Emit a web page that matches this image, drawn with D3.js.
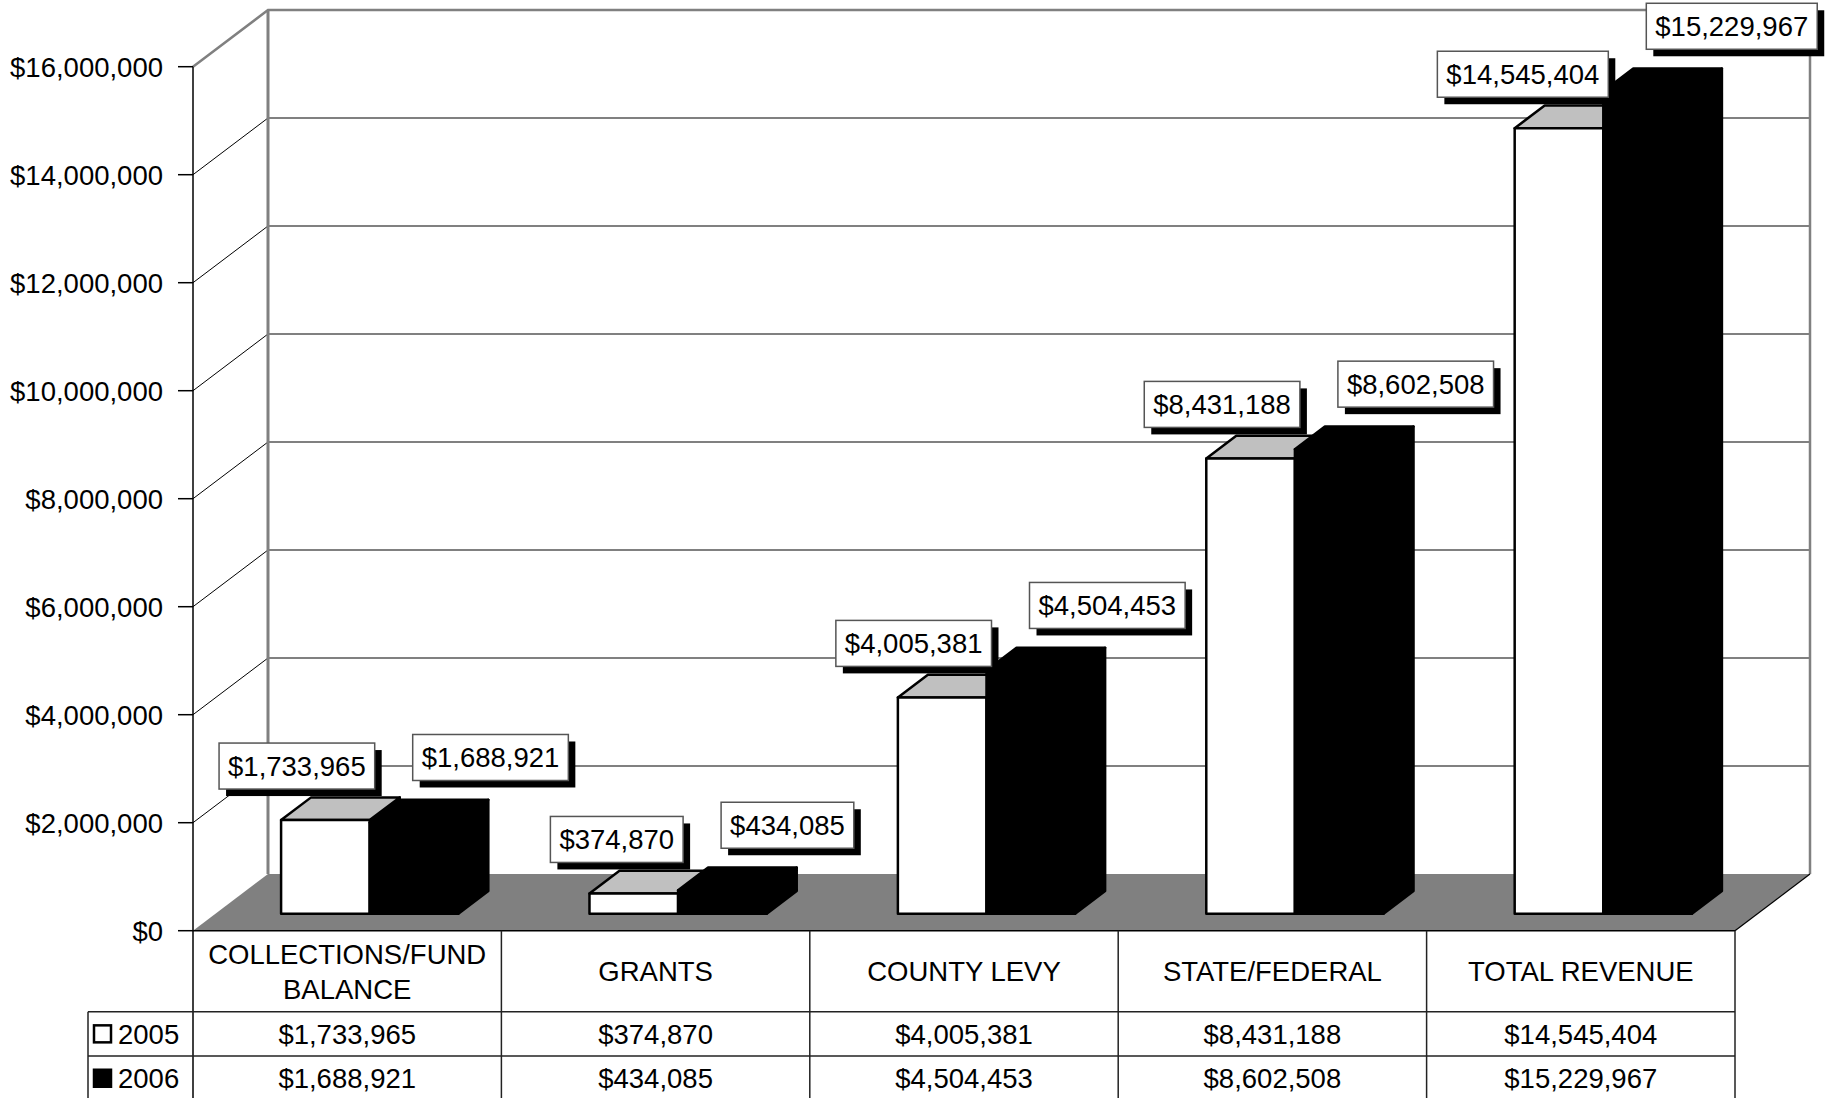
<!DOCTYPE html>
<html>
<head>
<meta charset="utf-8">
<script src="https://cdn.jsdelivr.net/npm/d3@7"></script>
<style>
html,body{margin:0;padding:0;background:#fff;}
svg{display:block;}
text{font-family:"Liberation Sans",Arial,sans-serif;fill:#000;}
</style>
</head>
<body>
<svg id="chart" width="1832" height="1098"></svg>
<script>
// ---- data ----
const categories = ["COLLECTIONS/FUND BALANCE", "GRANTS", "COUNTY LEVY", "STATE/FEDERAL", "TOTAL REVENUE"];
const categoryLines = [["COLLECTIONS/FUND", "BALANCE"], ["GRANTS"], ["COUNTY LEVY"], ["STATE/FEDERAL"], ["TOTAL REVENUE"]];
const seriesNames = ["2005", "2006"];
const values2005 = [1733965, 374870, 4005381, 8431188, 14545404];
const values2006 = [1688921, 434085, 4504453, 8602508, 15229967];
const yTicks = [0, 2000000, 4000000, 6000000, 8000000, 10000000, 12000000, 14000000, 16000000];

// ---- layout ----
const svg = d3.select("#chart");
const FONT = 27.5;
const plotLeft = 193, plotRight = 1735;
const DX = 75, DY = -56.7;           // depth of the 3D box
const f0 = 0.3, f1 = 0.7;            // bar depth range (fractions)
const fmt = d3.format("$,");

const y = d3.scaleLinear().domain([0, 16000000]).range([930.7, 66.7]);
const x0 = d3.scaleBand().domain(categories).range([plotLeft, plotRight]).paddingInner(0).paddingOuter(0);
const x1 = d3.scaleBand().domain(seriesNames).range([0, x0.bandwidth()]).paddingInner(0).paddingOuter(0.74);

const seriesValues = {"2005": values2005, "2006": values2006};
const seriesStyle = {
  "2005": {front: "#ffffff", top: "#c0c0c0", side: "#c0c0c0"},
  "2006": {front: "#000000", top: "#000000", side: "#000000"}
};

const yMax = y(16000000), y0 = y(0);

// back wall gridlines
const g = svg.append("g");
g.selectAll("line.grid").data(yTicks.filter(t => t > 0 && t < 16000000)).join("line")
  .attr("x1", plotLeft + DX).attr("x2", plotRight + DX)
  .attr("y1", d => y(d) + DY).attr("y2", d => y(d) + DY)
  .attr("stroke", "#808080").attr("stroke-width", 2);
// left wall diagonals
g.selectAll("line.diag").data(yTicks.filter(t => t > 0 && t < 16000000)).join("line")
  .attr("x1", plotLeft).attr("x2", plotLeft + DX)
  .attr("y1", d => y(d)).attr("y2", d => y(d) + DY)
  .attr("stroke", "#000").attr("stroke-width", 1);

// walls' edges
g.append("path")
  .attr("d", `M${plotLeft},${yMax} L${plotLeft + DX},${yMax + DY} L${plotRight + DX},${yMax + DY} L${plotRight + DX},${y0 + DY}`)
  .attr("fill", "none").attr("stroke", "#808080").attr("stroke-width", 2.5);
g.append("line")
  .attr("x1", plotLeft + DX).attr("x2", plotLeft + DX)
  .attr("y1", yMax + DY).attr("y2", y0 + DY)
  .attr("stroke", "#808080").attr("stroke-width", 3);

// floor
g.append("path")
  .attr("d", `M${plotLeft},${y0} L${plotRight},${y0} L${plotRight + DX},${y0 + DY} L${plotLeft + DX},${y0 + DY} Z`)
  .attr("fill", "#808080");
g.append("line")
  .attr("x1", plotRight).attr("y1", y0).attr("x2", plotRight + DX).attr("y2", y0 + DY)
  .attr("stroke", "#000").attr("stroke-width", 1.2);

// front axis + ticks + labels
g.append("line").attr("x1", plotLeft).attr("x2", plotLeft).attr("y1", yMax).attr("y2", 1098)
  .attr("stroke", "#000").attr("stroke-width", 1.5);
g.selectAll("line.tick").data(yTicks).join("line")
  .attr("x1", plotLeft - 15).attr("x2", plotLeft)
  .attr("y1", d => y(d)).attr("y2", d => y(d))
  .attr("stroke", "#000").attr("stroke-width", 1.5);
g.selectAll("text.tick").data(yTicks).join("text")
  .attr("x", plotLeft - 30).attr("y", d => y(d)).attr("dy", "0.36em")
  .attr("text-anchor", "end").attr("font-size", FONT)
  .text(d => fmt(d));

// bars
const bdx0 = DX * f0, bdy0 = DY * f0;
const bdx = DX * (f1 - f0), bdy = DY * (f1 - f0);
const bars = [];
categories.forEach((c, i) => {
  seriesNames.forEach(s => {
    const v = seriesValues[s][i];
    const xl = x0(c) + x1(s) + bdx0;
    const w = x1.bandwidth();
    const yb = y(0) + bdy0;
    const yt = y(v) + bdy0;
    bars.push({c, s, v, xl, w, yb, yt});
  });
});
const bg = svg.append("g");
bars.forEach(b => {
  const st = seriesStyle[b.s];
  const gb = bg.append("g").attr("stroke", "#000").attr("stroke-width", 2.5).attr("stroke-linejoin", "round");
  gb.append("path").attr("fill", st.side)
    .attr("d", `M${b.xl + b.w},${b.yt} L${b.xl + b.w + bdx},${b.yt + bdy} L${b.xl + b.w + bdx},${b.yb + bdy} L${b.xl + b.w},${b.yb} Z`);
  gb.append("path").attr("fill", st.top)
    .attr("d", `M${b.xl},${b.yt} L${b.xl + b.w},${b.yt} L${b.xl + b.w + bdx},${b.yt + bdy} L${b.xl + bdx},${b.yt + bdy} Z`);
  gb.append("rect").attr("fill", st.front)
    .attr("x", b.xl).attr("y", b.yt).attr("width", b.w).attr("height", b.yb - b.yt);
});

// data labels
const lg = svg.append("g");
const boxH = 46, pad = 9, sh = 7;
bars.forEach(b => {
  const t = lg.append("text").attr("font-size", FONT).text(fmt(b.v));
  const tw = t.node().getComputedTextLength();
  const bw = tw + 2 * pad;
  let bx, byBottom;
  if (b.s === "2005") { bx = b.xl + b.w + 5 - bw; byBottom = b.yt - 31; }
  else { bx = b.xl + 43; byBottom = b.yt - 42; }
  const by = byBottom - boxH;
  lg.insert("rect", () => t.node()).attr("x", bx + sh).attr("y", by + sh).attr("width", bw).attr("height", boxH).attr("fill", "#000");
  lg.insert("rect", () => t.node()).attr("x", bx).attr("y", by).attr("width", bw).attr("height", boxH)
    .attr("fill", "#fff").attr("stroke", "#555").attr("stroke-width", 1.5);
  t.attr("x", bx + pad).attr("y", by + boxH / 2).attr("dy", "0.36em");
});

// data table
const tg = svg.append("g");
const rowTop = y0, headBottom = 1011.7, row1Bottom = 1056, tableBottom = 1100.5, legendLeft = 88;
const lineColor = "#222";
tg.append("line").attr("x1", plotLeft).attr("x2", plotRight).attr("y1", rowTop).attr("y2", rowTop).attr("stroke", "#000").attr("stroke-width", 1.5);
[headBottom, row1Bottom].forEach(yy => {
  tg.append("line").attr("x1", legendLeft).attr("x2", plotRight).attr("y1", yy).attr("y2", yy).attr("stroke", lineColor).attr("stroke-width", 1.5);
});
tg.append("line").attr("x1", legendLeft).attr("x2", legendLeft).attr("y1", headBottom).attr("y2", tableBottom).attr("stroke", lineColor).attr("stroke-width", 1.5);
categories.forEach((c, i) => {
  const xr = x0(c) + x0.bandwidth();
  tg.append("line").attr("x1", xr).attr("x2", xr).attr("y1", rowTop).attr("y2", tableBottom).attr("stroke", lineColor).attr("stroke-width", 1.5);
  const cx = x0(c) + x0.bandwidth() / 2;
  const lines = categoryLines[i];
  const mid = (rowTop + headBottom) / 2;
  lines.forEach((ln, k) => {
    tg.append("text").attr("x", cx).attr("y", mid + (k - (lines.length - 1) / 2) * 35).attr("dy", "0.36em")
      .attr("text-anchor", "middle").attr("font-size", FONT).text(ln);
  });
  [[values2005, (headBottom + row1Bottom) / 2], [values2006, (row1Bottom + tableBottom) / 2]].forEach(([arr, cy]) => {
    tg.append("text").attr("x", cx).attr("y", cy).attr("dy", "0.36em")
      .attr("text-anchor", "middle").attr("font-size", FONT).text(fmt(arr[i]));
  });
});
// legend keys
[[seriesNames[0], (headBottom + row1Bottom) / 2], [seriesNames[1], (row1Bottom + tableBottom) / 2]].forEach(([s, cy]) => {
  tg.append("rect").attr("x", 94).attr("y", cy - 8.5).attr("width", 17).attr("height", 17)
    .attr("fill", seriesStyle[s].front).attr("stroke", "#000").attr("stroke-width", 2.5);
  tg.append("text").attr("x", 118).attr("y", cy).attr("dy", "0.36em").attr("font-size", FONT).text(s);
});
</script>
</body>
</html>
